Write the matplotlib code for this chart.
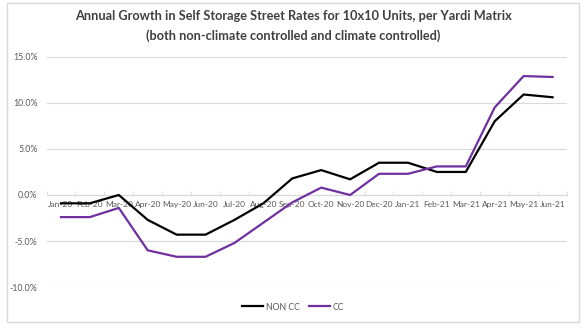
import matplotlib
matplotlib.use("Agg")
import matplotlib.pyplot as plt
from matplotlib.patches import Rectangle
from matplotlib.ticker import FuncFormatter, FixedLocator

plt.rcParams['font.family'] = ['Lato', 'DejaVu Sans']

months = ["Jan-20", "Feb-20", "Mar-20", "Apr-20", "May-20", "Jun-20", "Jul-20",
          "Aug-20", "Sep-20", "Oct-20", "Nov-20", "Dec-20", "Jan-21", "Feb-21",
          "Mar-21", "Apr-21", "May-21", "Jun-21"]
non_cc = [-0.9, -0.9, 0.0, -2.7, -4.3, -4.3, -2.7, -0.9, 1.8, 2.7, 1.7, 3.5,
          3.5, 2.5, 2.5, 8.0, 10.9, 10.6]
cc = [-2.4, -2.4, -1.4, -6.0, -6.7, -6.7, -5.2, -3.0, -0.8, 0.8, 0.0, 2.3,
      2.3, 3.1, 3.1, 9.5, 12.9, 12.8]
yticks = [-10, -5, 0, 5, 10, 15]

W, H = 586, 329
fig = plt.figure(figsize=(W / 100, H / 100), dpi=100)
fig.patch.set_facecolor("white")

# outer chart border
fig.patches.append(Rectangle((7 / W, 1 - 322 / H), (579 - 7) / W, (322 - 3) / H,
                             transform=fig.transFigure, fill=False,
                             edgecolor="#d9d9d9", linewidth=1.0))

left, right = 46.5 / W, 567 / W
top, bottom = 1 - 56.7 / H, 1 - 287.2 / H
ax = fig.add_axes([left, bottom, right - left, top - bottom])

x = list(range(len(months)))
ax.plot(x, non_cc, color="#000000", linewidth=1.6, label="NON CC", zorder=3)
ax.plot(x, cc, color="#7030A0", linewidth=1.6, label="CC", zorder=3)

ax.set_xlim(-0.5, len(months) - 0.5)
ax.set_ylim(-10, 15)
ax.set_yticks(yticks)
ax.yaxis.set_major_formatter(FuncFormatter(lambda v, p: f"{v:.1f}%"))
ax.grid(axis="y", color="#d9d9d9", linewidth=0.8, zorder=0)
ax.set_axisbelow(True)

for s in ["top", "right", "left"]:
    ax.spines[s].set_visible(False)
ax.spines["bottom"].set_position(("data", 0))
ax.spines["bottom"].set_color("#d9d9d9")
ax.spines["bottom"].set_linewidth(0.8)

ax.set_xticks(x)
ax.set_xticklabels(months)
ax.xaxis.set_minor_locator(FixedLocator([i - 0.5 for i in range(len(months) + 1)]))
ax.tick_params(axis="x", which="major", length=0, pad=4, labelsize=6, labelcolor="#595959")
ax.tick_params(axis="x", which="minor", length=3, direction="in", color="#d9d9d9")
ax.tick_params(axis="y", length=0, pad=6.5, labelsize=6.3, labelcolor="#595959")

fig.text(0.5, 1 - 16 / H, "Annual Growth in Self Storage Street Rates for 10x10 Units, per Yardi Matrix",
         ha="center", va="center", fontsize=9.2, fontweight="bold", color="#404040")
fig.text(0.5, 1 - 36 / H, "(both non-climate controlled and climate controlled)",
         ha="center", va="center", fontsize=9.2, fontweight="bold", color="#404040")

fig.legend(loc="center", bbox_to_anchor=(0.5, 1 - 307 / H), ncol=2, frameon=False,
           fontsize=6.3, labelcolor="#595959", handlelength=2.4, handletextpad=0.3,
           columnspacing=1.0)

fig.savefig("out.png", dpi=100)
